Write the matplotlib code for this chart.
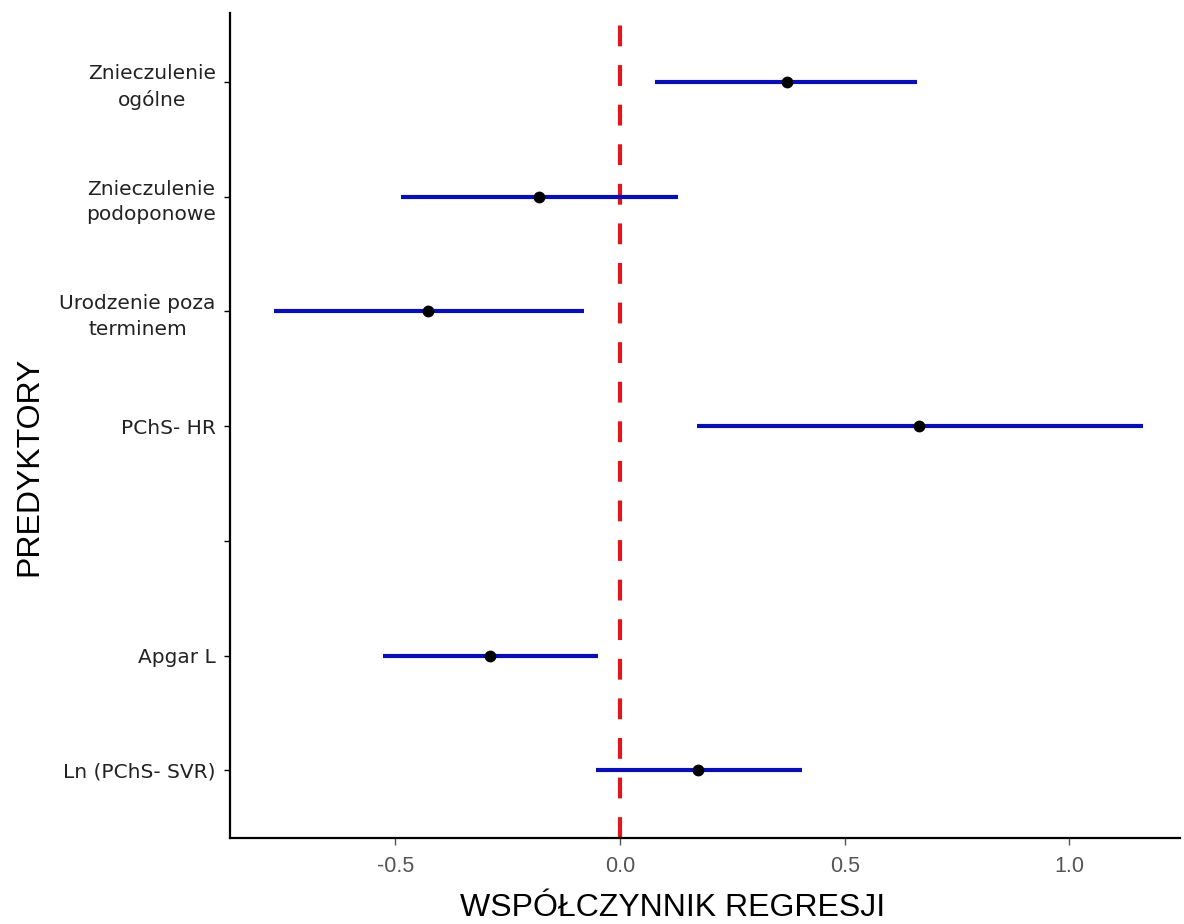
import numpy as np
import matplotlib.pyplot as plt

# Predictors (top to bottom), one empty slot between PChS- HR and Apgar L
labels = ['Znieczulenie\nogólne', 'Znieczulenie\npodoponowe', 'Urodzenie poza\nterminem',
          'PChS- HR', '', 'Apgar L', 'Ln (PChS- SVR)']
coef = [0.372, -0.180, -0.428, 0.666, np.nan, -0.290, 0.174]
ci_low = [0.078, -0.488, -0.771, 0.171, np.nan, -0.528, -0.053]
ci_high = [0.661, 0.129, -0.080, 1.163, np.nan, -0.049, 0.405]
xticks = [-0.5, 0.0, 0.5, 1.0]

pos = np.arange(len(labels))[::-1]

fig = plt.figure(figsize=(11.84, 9.24), dpi=100)
ax = fig.add_axes([0.194, 0.093, 0.803, 0.893])

ax.axvline(0, color='#e0161b', lw=3, ls=(0, (5, 4.5)), zorder=1)
for y, lo, hi, c in zip(pos, ci_low, ci_high, coef):
    if np.isnan(c):
        continue
    ax.plot([lo, hi], [y, y], color='#0a0fb4', lw=3, solid_capstyle='butt', zorder=2)
    ax.plot(c, y, 'o', color='black', ms=7.5, zorder=3)

ax.set_xlim(-0.869, 1.247)
ax.set_ylim(-0.59, 6.60)
ax.set_yticks(pos)
ax.set_yticklabels(labels, fontsize=14.5, family=['DejaVu Sans'], color='#222222',
                   multialignment='center', linespacing=1.45)
ax.set_xticks(xticks)
ax.set_xticklabels([f'{v:.1f}' for v in xticks], fontsize=15.5, color='#555555',
                   family=['Liberation Sans'])
ax.tick_params(axis='y', length=4, width=1, pad=6)
ax.tick_params(axis='x', length=5, width=1, colors='#555555', pad=8)

for side in ['top', 'right']:
    ax.spines[side].set_visible(False)
for side in ['left', 'bottom']:
    ax.spines[side].set_linewidth(1.6)
    ax.spines[side].set_color('black')

ax.set_xlabel('WSPÓŁCZYNNIK REGRESJI', fontsize=23,
              family=['Liberation Sans'])
ax.xaxis.set_label_coords(0.466, -0.066)
ax.set_ylabel('PREDYKTORY', fontsize=23,
              family=['Liberation Sans'])
ax.yaxis.set_label_coords(-0.195, 0.451)

fig.savefig('out.png', dpi=100)
